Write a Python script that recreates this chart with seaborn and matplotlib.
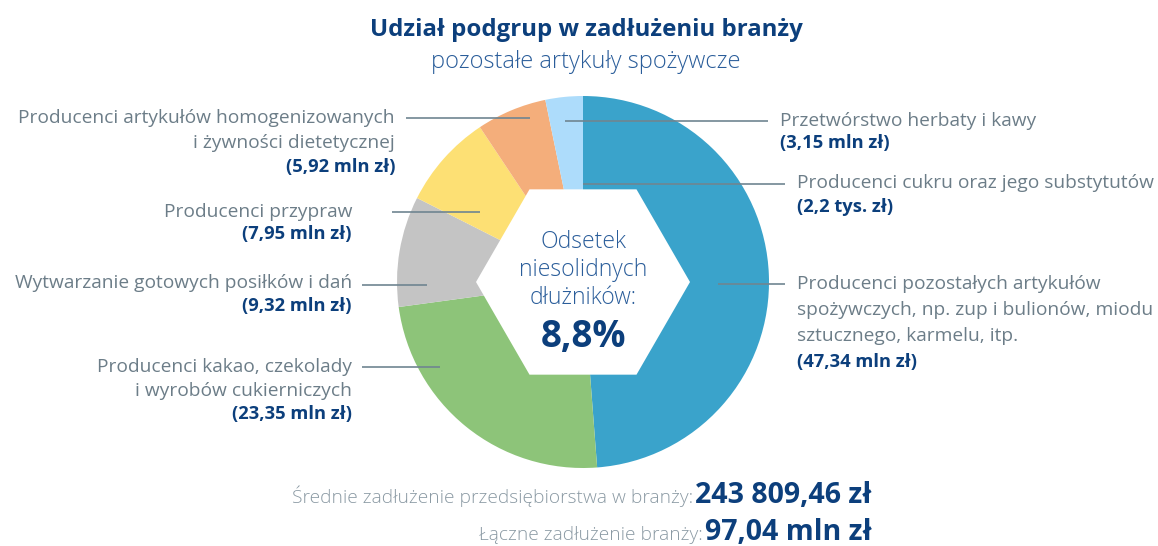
import matplotlib
matplotlib.use("Agg")
import matplotlib.pyplot as plt
from matplotlib.patches import RegularPolygon
import numpy as np
import seaborn as sns

# ---- data ----
categories = [
    "Producenci pozostałych artykułów\nspożywczych, np. zup i bulionów, miodu\nsztucznego, karmelu, itp.",
    "Producenci kakao, czekolady\ni wyrobów cukierniczych",
    "Wytwarzanie gotowych posiłków i dań",
    "Producenci przypraw",
    "Producenci artykułów homogenizowanych\ni żywności dietetycznej",
    "Przetwórstwo herbaty i kawy",
    "Producenci cukru oraz jego substytutów",
]
values_mln = [47.34, 23.35, 9.32, 7.95, 5.92, 3.15, 0.0022]
value_labels = ["(47,34 mln zł)", "(23,35 mln zł)", "(9,32 mln zł)", "(7,95 mln zł)",
                "(5,92 mln zł)", "(3,15 mln zł)", "(2,2 tys. zł)"]
colors = ["#3aa3cb", "#8dc479", "#c4c4c4", "#fde074", "#f4ae7b", "#addcfb", "#addcfb"]
title = "Udział podgrup w zadłużeniu branży"
subtitle = "pozostałe artykuły spożywcze"
center_text = "Odsetek\nniesolidnych\ndłużników:"
center_value = "8,8%"
avg_label = "Średnie zadłużenie przedsiębiorstwa w branży:"
avg_value = "243 809,46 zł"
total_label = "Łączne zadłużenie branży:"
total_value = "97,04 mln zł"

sns.set_theme(style="white")
FONT = ["Open Sans", "DejaVu Sans"]
plt.rcParams["font.family"] = FONT

W, H = 1158, 546
fig = plt.figure(figsize=(W / 100, H / 100), dpi=100)
ax = fig.add_axes([0, 0, 1, 1])
ax.set_xlim(0, W)
ax.set_ylim(0, H)
ax.axis("off")


def Y(y):
    return H - y


TXT = "#6c7d88"
DARK = "#0c3f7c"
LINE = "#6f8591"

cx, cy, R = 583, Y(282), 186
pal = sns.color_palette(colors)
ax.pie(values_mln, colors=pal, startangle=90, counterclock=False,
       center=(cx, cy), radius=R, wedgeprops=dict(linewidth=0))
ax.set_xlim(0, W)
ax.set_ylim(0, H)
ax.set_aspect("auto")

hexagon = RegularPolygon((cx, cy), numVertices=6, radius=107, orientation=np.pi / 6,
                         facecolor="white", edgecolor="none", zorder=3)
ax.add_patch(hexagon)

# center texts
ax.text(cx, Y(270), center_text, ha="center", va="center", fontsize=16.5,
        color="#2a5d9a", linespacing=1.25, zorder=4, fontweight="light")
ax.text(cx, Y(337), center_value, ha="center", va="center", fontsize=26.5,
        color=DARK, fontweight="bold", zorder=4)

# title
ax.text(586, Y(30), title, ha="center", va="center", fontsize=17.3, fontweight="bold", color=DARK)
ax.text(586, Y(62), subtitle, ha="center", va="center", fontsize=17, color="#2a5d9a", fontweight="light")

LFS = 13.8
VFS = 13.2

# (index, text x, align, first-line y, line x0, line x1, line y)
layout = [
    (0, 797, "left", 284, 718, 785, 284),
    (1, 352, "right", 367, 362, 440, 367),
    (2, 352, "right", 283, 362, 427, 285),
    (3, 352, "right", 212, 392, 480, 212),
    (4, 395, "right", 118, 406, 530, 118),
    (5, 780, "left", 121, 565, 768, 121),
    (6, 797, "left", 183, 583, 785, 184),
]
steps = {0: 26, 1: 23.5, 2: 23, 3: 22, 4: 24.5, 5: 22, 6: 24}
for i, tx, al, ty, x0, x1, ly in layout:
    lines = categories[i].split("\n")
    st = steps[i]
    for k, ln in enumerate(lines):
        ax.text(tx, Y(ty + k * st), ln, ha=al, va="center", fontsize=LFS, color=TXT)
    ax.text(tx, Y(ty + len(lines) * st), value_labels[i], ha=al, va="center",
            fontsize=VFS, color=DARK, fontweight="bold")
    ax.plot([x0, x1], [Y(ly), Y(ly)], color=LINE, lw=1.2, zorder=5, solid_capstyle="butt")

# bottom summary
fig.canvas.draw()
r = fig.canvas.get_renderer()
for lab, val, yy in [(avg_label, avg_value, 503), (total_label, total_value, 540)]:
    tv = ax.text(872, Y(yy), val, ha="right", va="baseline", fontsize=20.5, color=DARK, fontweight="bold")
    bb = tv.get_window_extent(renderer=r)
    ax.text(bb.x0 - 2, Y(yy), lab, ha="right", va="baseline", fontsize=13.8, color="#8a99a3",
            fontweight="light")

fig.savefig("out.png", dpi=100)
